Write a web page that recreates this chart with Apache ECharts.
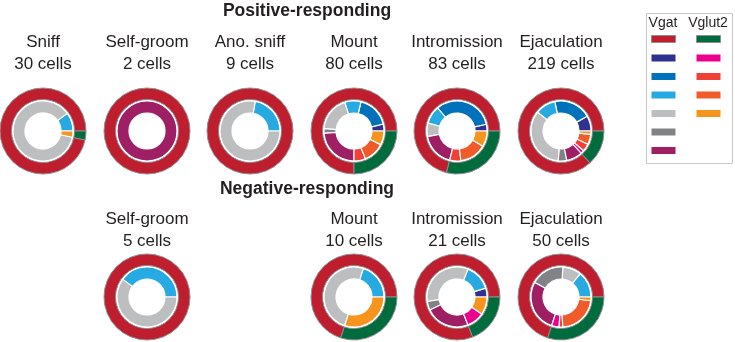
<!DOCTYPE html>
<html>
<head>
<meta charset="utf-8">
<script src="https://cdn.jsdelivr.net/npm/echarts@6/dist/echarts.min.js"></script>
<style>
  html, body { margin: 0; padding: 0; background: #fff; }
  #chart { width: 735px; height: 342px; }
</style>
</head>
<body>
<div id="chart"></div>
<script>
const behaviors = ['Sniff', 'Self-groom', 'Ano. sniff', 'Mount', 'Intromission', 'Ejaculation']

// subtypes, in legend order
const vgatTypes = ['Vgat 1', 'Vgat 2', 'Vgat 3', 'Vgat 4', 'Vgat 5', 'Vgat 6']
const vglut2Types = ['Vglut2 1', 'Vglut2 2', 'Vglut2 3', 'Vglut2 4']
const vgatColors = ['#2e3192', '#0072bc', '#27aae1', '#bcbec0', '#808285', '#9e1f63']
const vglut2Colors = ['#ec008c', '#ef4136', '#f15a29', '#f7941d']
const groupColors = { Vgat: '#be1e2d', Vglut2: '#006b3c' }

// cells per subtype: 6 Vgat subtypes, then 4 Vglut2 subtypes
const posSniff        = [0, 0, 3, 26, 0, 0, 0, 0, 0, 1]
const posSelfGroom    = [0, 0, 0, 0, 0, 2, 0, 0, 0, 0]
const posAnoSniff     = [0, 0, 2, 7, 0, 0, 0, 0, 0, 0]
const posMount        = [3, 14, 7, 15, 2, 19, 0, 5, 9, 6]
const posIntromission = [3, 27, 8, 6, 0, 15, 0, 5, 12, 7]
const posEjaculation  = [18, 44, 24, 75, 10, 19, 4, 9, 12, 4]

const negSelfGroom    = [0, 0, 2, 3, 0, 0, 0, 0, 0, 0]
const negMount        = [0, 0, 2, 5, 0, 0, 0, 0, 0, 3]
const negIntromission = [1, 0, 3, 7, 1, 5, 2, 0, 0, 2]
const negEjaculation  = [0, 0, 7, 5, 9, 14, 2, 1, 11, 1]

const positive = [posSniff, posSelfGroom, posAnoSniff, posMount, posIntromission, posEjaculation]
const negative = [null, negSelfGroom, null, negMount, negIntromission, negEjaculation]

const colX = [43, 147, 250, 354, 457, 561]
const rows = [
  { counts: positive, cy: 131, titleY: 32 },
  { counts: negative, cy: 297, titleY: 209 },
]
const font = 'Liberation Sans, Arial, sans-serif'
const sum = (arr) => arr.reduce((a, b) => a + b, 0)

const pieBase = {
  type: 'pie',
  startAngle: 0,
  clockwise: false,
  silent: true,
  animation: false,
  label: { show: false },
  labelLine: { show: false },
  emphasis: { disabled: true },
}

const series = []
const titles = []

rows.forEach((row) => {
  row.counts.forEach((counts, i) => {
    if (!counts) return
    const cx = colX[i]
    const nVgat = sum(counts.slice(0, 6))
    const nGlut = sum(counts.slice(6))
    series.push({
      ...pieBase,
      center: [cx, row.cy],
      radius: [31.5, 43],
      itemStyle: { borderColor: '#8e8e8e', borderWidth: 1 },
      data: [
        { name: 'Vgat', value: nVgat, itemStyle: { color: groupColors.Vgat } },
        { name: 'Vglut2', value: nGlut, itemStyle: { color: groupColors.Vglut2 } },
      ].filter((d) => d.value > 0),
    })
    const inner = []
    vgatTypes.forEach((n, k) => inner.push({ name: n, value: counts[k], itemStyle: { color: vgatColors[k] } }))
    vglut2Types.forEach((n, k) => inner.push({ name: n, value: counts[6 + k], itemStyle: { color: vglut2Colors[k] } }))
    series.push({
      ...pieBase,
      center: [cx, row.cy],
      radius: [18, 30],
      itemStyle: { borderColor: '#fff', borderWidth: 1.2 },
      data: inner.filter((d) => d.value > 0),
    })
    titles.push({
      text: behaviors[i] + '\n' + (nVgat + nGlut) + ' cells',
      left: cx,
      top: row.titleY,
      textAlign: 'center',
      padding: 0,
      textStyle: { fontFamily: font, fontSize: 17, fontWeight: 'normal', color: '#231f20', lineHeight: 21.5 },
    })
  })
})

const headStyle = { fontFamily: font, fontSize: 17.5, fontWeight: 'bold', color: '#231f20' }
titles.push({ text: 'Positive-responding', left: 307, top: 2, textAlign: 'center', padding: 0, textStyle: headStyle })
titles.push({ text: 'Negative-responding', left: 307, top: 180, textAlign: 'center', padding: 0, textStyle: headStyle })
const keyStyle = { fontFamily: font, fontSize: 14, fontWeight: 'normal', color: '#231f20' }
titles.push({ text: 'Vgat', left: 663, top: 16, textAlign: 'center', padding: 0, textStyle: keyStyle })
titles.push({ text: 'Vglut2', left: 708, top: 16, textAlign: 'center', padding: 0, textStyle: keyStyle })

const legendBase = {
  orient: 'vertical',
  top: 35,
  itemWidth: 24,
  itemHeight: 7,
  itemGap: 11.5,
  icon: 'rect',
  selectedMode: false,
  padding: 0,
  formatter: () => '',
  textStyle: { fontSize: 1, lineHeight: 1 },
}
const keyItem = (name, color, boxed) => ({
  name,
  itemStyle: boxed ? { color, borderColor: '#8e8e8e', borderWidth: 1 } : { color, borderWidth: 0 },
})

const option = {
  backgroundColor: '#fff',
  animation: false,
  title: titles,
  legend: [
    {
      ...legendBase,
      left: 651,
      data: [keyItem('Vgat', groupColors.Vgat, true)].concat(vgatTypes.map((n, k) => keyItem(n, vgatColors[k])))
    },
    {
      ...legendBase,
      left: 696,
      data: [keyItem('Vglut2', groupColors.Vglut2, true)].concat(vglut2Types.map((n, k) => keyItem(n, vglut2Colors[k])))
    },
  ],
  graphic: [
    {
      type: 'rect',
      shape: { x: 646.5, y: 13.5, width: 86, height: 150 },
      style: { fill: 'none', stroke: '#c8c8c8', lineWidth: 1 },
      silent: true,
    },
  ],
  series,
}

const chart = echarts.init(document.getElementById('chart'))
chart.setOption(option)
</script>
</body>
</html>
